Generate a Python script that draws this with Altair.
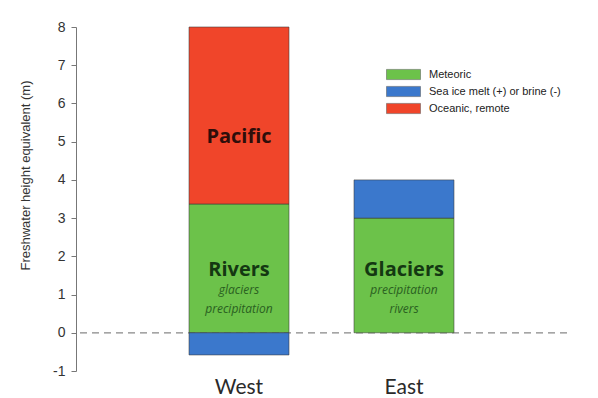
import altair as alt
import pandas as pd

regions = ["West", "West", "West", "East", "East"]
components = ["Meteoric", "Sea ice melt (+) or brine (-)", "Oceanic, remote",
              "Meteoric", "Sea ice melt (+) or brine (-)"]
amounts = [3.37, -0.58, 4.63, 3.0, 1.0]
orders = [0, 1, 2, 0, 1]

legend_labels = ["Meteoric", "Sea ice melt (+) or brine (-)", "Oceanic, remote"]
legend_colors = ["#6cc24a", "#3b78cc", "#f0452a"]

y_ticks = [-1, 0, 1, 2, 3, 4, 5, 6, 7, 8]

lab_regions = ["West", "West", "West", "West", "East", "East", "East"]
lab_texts = ["Pacific", "Rivers", "glaciers", "precipitation", "Glaciers", "precipitation", "rivers"]
lab_values = [5.12, 1.65, 1.12, 0.63, 1.65, 1.12, 0.63]
lab_kind = ["big", "big", "small", "small", "big", "small", "small"]
lab_color = ["#2e0e0a", "#143812", "#2a6021", "#2a6021", "#143812", "#2a6021", "#2a6021"]

bars_df = pd.DataFrame({"region": regions, "component": components,
                        "amount": amounts, "ord": orders})
labels_df = pd.DataFrame({"region": lab_regions, "text": lab_texts, "y": lab_values,
                          "kind": lab_kind, "color": lab_color})

xscale = alt.Scale(domain=["West", "East"], paddingInner=0.394, paddingOuter=0.685)
yscale = alt.Scale(domain=[-1, 8], nice=False, zero=False)

yaxis = alt.Axis(title="Freshwater height equivalent (m)", values=y_ticks,
                 labelExpr="datum.value + ''",
                 grid=False, domainColor="#777777", tickColor="#777777",
                 tickSize=5, labelFontSize=14, labelFont="Liberation Sans",
                 labelColor="#333333", titleFontSize=13, titleFontWeight="normal",
                 titleFont="Liberation Sans", titleColor="#333333",
                 titlePadding=20, titleY=148, labelPadding=6, labelOverlap=False,
                 labelBound=False, labelFlush=False)
xaxis = alt.Axis(title=None, domain=False, ticks=False, labelAngle=0,
                 labelFontSize=21, labelFont="Lato", labelColor="#2a2a2a",
                 labelPadding=5)

swatch = "M-1,-0.3 L1,-0.3 L1,0.3 L-1,0.3 Z"

zero = alt.Chart(pd.DataFrame({"v": [0]})).mark_rule(
    color="#888888", strokeDash=[7, 5], strokeWidth=1.2).encode(
    y=alt.Y("v:Q", scale=yscale, axis=yaxis))

bars = alt.Chart(bars_df).mark_bar(stroke="#3a3a3a", strokeWidth=0.8, strokeOpacity=0.7).encode(
    x=alt.X("region:N", scale=xscale, sort=["West", "East"], axis=xaxis),
    y=alt.Y("sum(amount):Q", scale=yscale, stack="zero", axis=yaxis),
    color=alt.Color("component:N",
                    scale=alt.Scale(domain=legend_labels, range=legend_colors),
                    legend=alt.Legend(title=None, orient="none", legendX=310, legendY=39,
                                      symbolType=swatch, symbolSize=1156,
                                      symbolStrokeColor="#555555", symbolStrokeWidth=0.5,
                                      symbolOpacity=1, clipHeight=17, rowPadding=0,
                                      labelFontSize=11, labelFont="Liberation Sans",
                                      labelColor="#222222", labelOffset=8)),
    order=alt.Order("ord:Q"),
)

big = alt.Chart(labels_df).transform_filter(alt.datum.kind == "big").mark_text(
    font="Open Sans", fontSize=20, fontWeight="bold").encode(
    x=alt.X("region:N", scale=xscale, sort=["West", "East"], axis=xaxis),
    y=alt.Y("y:Q", scale=yscale, axis=yaxis),
    text="text:N",
    color=alt.Color("color:N", scale=None),
)
small = alt.Chart(labels_df).transform_filter(alt.datum.kind == "small").mark_text(
    font="Open Sans", fontSize=12, fontStyle="italic").encode(
    x=alt.X("region:N", scale=xscale, sort=["West", "East"], axis=xaxis),
    y=alt.Y("y:Q", scale=yscale, axis=yaxis),
    text="text:N",
    color=alt.Color("color:N", scale=None),
)

chart = alt.layer(zero, bars, big, small).properties(
    width=491, height=344,
    background="white",
    autosize=alt.AutoSizeParams(type="none"),
    padding={"left": 68, "top": 19, "right": 15, "bottom": 28},
).configure_view(stroke=None)

chart.save("out.html", embed_options={"renderer": "svg", "actions": False})
